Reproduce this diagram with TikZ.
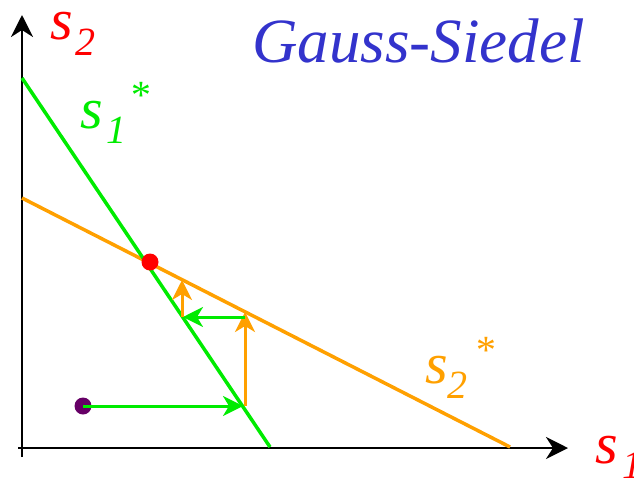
\documentclass[tikz,border=0pt]{standalone}
\usepackage{fontspec}
\setmainfont{Liberation Serif}
\usetikzlibrary{arrows.meta}
\definecolor{gsgreen}{RGB}{0,235,0}
\definecolor{gsorange}{RGB}{255,160,0}
\definecolor{gsred}{RGB}{255,0,0}
\definecolor{gsblue}{RGB}{51,51,204}
\definecolor{gspurple}{RGB}{102,0,102}
\tikzset{
  axis/.style={line width=2.5pt,-{Stealth[length=22pt,width=22pt,inset=7pt]}},
  solline/.style={line width=3.5pt},
  steparrow/.style={line width=3pt,-{Stealth[length=20pt,width=20pt,inset=6pt]}},
  bigs/.style={inner sep=0pt,anchor=base west,font=\fontsize{58}{60}\selectfont\itshape},
  subs/.style={inner sep=0pt,anchor=base west,font=\fontsize{40}{42}\selectfont\itshape},
  dot/.style={circle,inner sep=0pt,minimum size=17pt}
}
\begin{document}
\begin{tikzpicture}[x=1pt,y=-1pt]
\useasboundingbox (0,0) rectangle (634,477);
% axes
\coordinate (yb) at (22,457);
\coordinate (yt) at (22,15);
\coordinate (xl) at (18,448);
\coordinate (xr) at (568,448);
\draw[axis] (yb) -- (yt);
\draw[axis] (xl) -- (xr);
% solution lines
\coordinate (g1) at (22,78);
\coordinate (g2) at (270,447);
\coordinate (o1) at (22,198);
\coordinate (o2) at (510,447);
\draw[solline,gsorange] (o1) -- (o2);
\draw[solline,gsgreen] (g1) -- (g2);
% iteration
\node[dot,fill=gspurple] (start) at (83,406) {};
\coordinate (p1) at (243,406);
\coordinate (p1b) at (245,406);
\coordinate (p2) at (245,312);
\coordinate (p2b) at (245,317);
\coordinate (p3) at (183,317);
\coordinate (p3b) at (182,317);
\coordinate (p4) at (182,280);
\draw[steparrow,gsgreen] (start.center) -- (p1);
\draw[steparrow,gsorange] (p1b) -- (p2);
\draw[steparrow,gsgreen] (p2b) -- (p3);
\draw[steparrow,gsorange] (p3b) -- (p4);
\node[dot,fill=gsred] (sol) at (150,262) {};
% labels
\node[bigs,gsred] (s2s) at (50,39) {s};
\node[subs,gsred] (s2n) at (75,55) {2};
\node[bigs,gsgreen] (s1s) at (80,128) {s};
\node[subs,gsgreen] (s1n) at (106,143) {1};
\node[subs,gsgreen] (s1a) at (129,108) {*};
\node[bigs,gsorange] (s2ss) at (425,383) {s};
\node[subs,gsorange] (s2sn) at (447,398) {2};
\node[subs,gsorange] (s2sa) at (474,363) {*};
\node[bigs,gsred] (s1x) at (595,463) {s};
\node[subs,gsred] (s1xn) at (622,478) {1};
\node[inner sep=0pt,anchor=base west,gsblue,font=\fontsize{63}{66}\selectfont\itshape] (title) at (252,62) {Gauss-Siedel};
\end{tikzpicture}
\end{document}
